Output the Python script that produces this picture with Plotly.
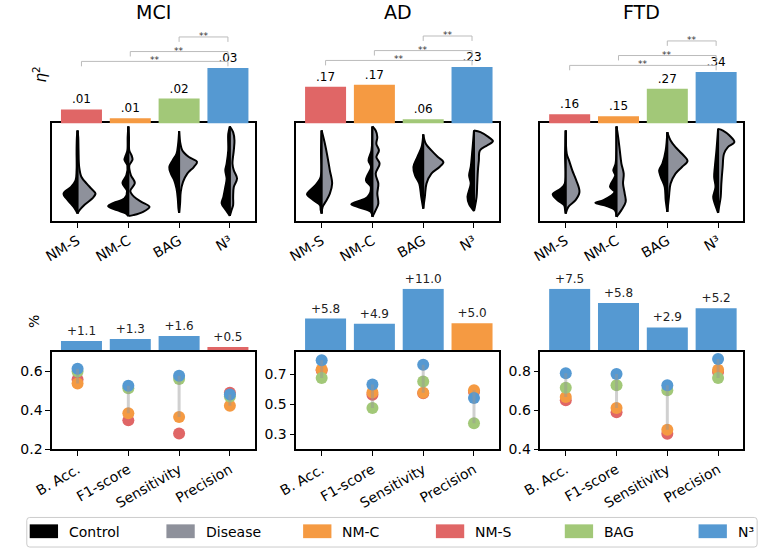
import plotly.graph_objects as go

W, H = 763, 557

panels = ["MCI", "AD", "FTD"]
methods = ["NM-S", "NM-C", "BAG", "N³"]
metrics = ["B. Acc.", "F1-score", "Sensitivity", "Precision"]

# ---- effect sizes (eta^2) per method ----
eta_mci = [0.0125, 0.008, 0.018, 0.0335]
eta_ad = [0.168, 0.1744, 0.0622, 0.232]
eta_ftd = [0.160, 0.1517, 0.2683, 0.339]

# significance brackets (method vs N³)
sig_pairs = [("BAG", "N³", "**"), ("NM-C", "N³", "**"), ("NM-S", "N³", "**")]

# ---- split-violin density profiles: (score %, half-width x100) ----
mci_nms_ctrl = [(92.5, 0), (85.7, 1.3), (72.1, 1.9), (51.7, 1.9), (41.5, 3.9), (34.7, 12.8), (27.9, 27.6), (21.1, 19.3), (14.3, 7.7), (9.2, 1.9), (7.5, 0)]
mci_nms_dis = [(92.5, 0), (85.7, 1.3), (72.1, 1.9), (55.1, 3.2), (44.9, 7.7), (38.1, 18.0), (33.0, 27.0), (27.9, 35.3), (22.8, 28.9), (16.0, 12.8), (10.9, 3.9), (7.5, 0)]
mci_nmc_ctrl = [(96.6, 0), (85.7, 1.3), (72.1, 1.9), (67.0, 5.1), (62.6, 7.7), (56.8, 1.9), (46.6, 3.9), (38.8, 11.6), (30.6, 2.6), (22.8, 7.7), (18.4, 28.9), (15.0, 39.8), (10.9, 22.5), (7.5, 5.1), (4.8, 0)]
mci_nmc_dis = [(96.6, 0), (85.7, 1.3), (72.1, 1.9), (67.0, 6.4), (62.6, 8.3), (56.8, 1.9), (46.6, 5.1), (38.8, 12.8), (30.6, 3.9), (24.5, 11.6), (19.4, 25.7), (14.3, 41.7), (9.2, 28.9), (5.8, 9.6), (4.8, 0)]
mci_bag_ctrl = [(91.8, 0), (78.9, 1.9), (68.7, 5.1), (61.9, 12.8), (55.1, 19.3), (48.3, 16.1), (41.5, 9.6), (33.0, 5.1), (22.8, 2.6), (12.6, 1.3), (8.2, 0)]
mci_bag_dis = [(91.8, 0), (78.9, 2.6), (72.1, 6.4), (65.3, 19.3), (60.2, 35.3), (55.1, 28.9), (48.3, 16.1), (39.8, 7.7), (29.6, 3.2), (17.7, 1.9), (8.2, 0)]
mci_n3_ctrl = [(96.6, 0), (89.1, 3.2), (72.1, 3.2), (58.5, 6.4), (51.7, 9.0), (43.2, 6.4), (34.7, 9.0), (24.5, 12.8), (17.7, 16.1), (10.9, 7.7), (5.1, 0)]
mci_n3_dis = [(96.6, 0), (90.8, 6.4), (82.3, 9.0), (72.1, 7.7), (58.5, 5.1), (51.7, 7.7), (43.2, 14.1), (34.7, 7.7), (24.5, 6.4), (16.0, 6.4), (10.9, 3.2), (5.1, 0)]

ad_nms_ctrl = [(92.5, 0), (72.1, 1.3), (44.9, 1.9), (38.1, 9.6), (31.3, 22.5), (27.2, 28.9), (21.1, 16.1), (16.0, 3.2), (10.9, 1.9), (7.5, 0)]
ad_nms_dis = [(92.5, 0), (78.9, 6.4), (65.3, 11.6), (51.7, 16.1), (38.1, 20.6), (27.9, 16.1), (19.4, 7.7), (14.3, 1.9), (7.5, 0)]
ad_nmc_ctrl = [(96.6, 0), (72.1, 1.9), (61.9, 7.7), (55.1, 2.6), (41.5, 12.8), (34.7, 3.2), (24.5, 9.6), (19.4, 32.1), (17.0, 41.7), (13.6, 25.7), (9.2, 3.2), (4.1, 0)]
ad_nmc_dis = [(96.6, 0), (92.5, 6.4), (85.7, 9.6), (78.9, 7.7), (72.1, 12.8), (65.3, 7.7), (58.5, 14.1), (48.3, 6.4), (38.1, 11.6), (27.9, 9.6), (17.7, 11.6), (10.9, 6.4), (4.1, 0)]
ad_bag_ctrl = [(88.4, 0), (75.5, 3.2), (65.3, 11.6), (55.1, 19.3), (46.6, 16.1), (38.1, 7.7), (24.5, 3.9), (12.6, 0)]
ad_bag_dis = [(88.4, 0), (78.9, 5.1), (72.1, 16.1), (65.3, 28.9), (60.2, 39.8), (55.1, 32.1), (48.3, 16.1), (38.1, 6.4), (24.5, 3.2), (12.6, 0)]
ad_n3_ctrl = [(92.5, 0), (72.1, 3.2), (55.1, 6.4), (46.6, 9.6), (38.1, 6.4), (24.5, 12.8), (17.0, 9.6), (9.9, 0)]
ad_n3_dis = [(92.5, 0), (90.8, 12.8), (85.7, 28.9), (81.6, 37.3), (77.2, 25.7), (72.1, 11.6), (61.9, 9.6), (51.7, 7.7), (38.1, 6.4), (24.5, 5.1), (14.3, 1.9), (9.9, 0)]

ftd_nms_ctrl = [(92.5, 0), (68.7, 1.3), (38.1, 1.9), (33.0, 9.6), (27.2, 25.7), (21.1, 16.1), (16.0, 3.2), (10.9, 1.3), (7.5, 0)]
ftd_nms_dis = [(92.5, 0), (68.7, 1.9), (61.9, 6.4), (51.7, 12.8), (41.5, 20.6), (29.6, 27.0), (21.1, 19.3), (14.3, 5.1), (7.5, 0)]
ftd_nmc_ctrl = [(96.6, 0), (58.5, 1.9), (51.7, 6.4), (46.6, 2.6), (34.7, 12.8), (29.6, 3.9), (21.1, 25.7), (18.4, 41.7), (15.0, 19.3), (10.9, 3.2), (4.1, 0)]
ftd_nmc_dis = [(96.6, 0), (85.7, 3.2), (72.1, 6.4), (58.5, 9.6), (48.3, 14.1), (38.1, 12.8), (27.9, 16.1), (19.4, 18.0), (10.9, 9.6), (4.1, 0)]
ftd_bag_ctrl = [(90.8, 0), (72.1, 3.2), (58.5, 9.6), (51.7, 16.1), (44.9, 12.8), (34.7, 5.1), (21.1, 3.2), (9.2, 0)]
ftd_bag_dis = [(90.8, 0), (82.3, 6.4), (75.5, 16.1), (68.7, 28.9), (61.2, 39.8), (55.1, 28.9), (48.3, 16.1), (38.1, 6.4), (24.5, 3.2), (9.2, 0)]
ftd_n3_ctrl = [(94.2, 0), (72.1, 3.2), (55.1, 6.4), (44.9, 7.7), (34.7, 5.1), (24.5, 9.6), (19.4, 7.7), (8.2, 0)]
ftd_n3_dis = [(94.2, 0), (92.5, 9.6), (87.4, 22.5), (80.6, 32.1), (75.5, 19.3), (68.7, 11.6), (55.1, 9.0), (38.1, 6.4), (24.5, 5.1), (14.3, 1.9), (8.2, 0)]

# ---- classification scores per metric ----
mci_nms = [0.558, 0.349, 0.282, 0.491]
mci_nmc = [0.538, 0.385, 0.366, 0.424]
mci_bag = [0.600, 0.513, 0.561, 0.471]
mci_n3 = [0.613, 0.526, 0.578, 0.482]
ad_nms = [0.728, 0.564, 0.575, 0.582]
ad_nmc = [0.733, 0.579, 0.577, 0.595]
ad_bag = [0.676, 0.476, 0.652, 0.375]
ad_n3 = [0.795, 0.632, 0.764, 0.542]
ftd_nms = [0.652, 0.590, 0.481, 0.797]
ftd_nmc = [0.669, 0.612, 0.501, 0.808]
ftd_bag = [0.716, 0.729, 0.703, 0.766]
ftd_n3 = [0.790, 0.787, 0.729, 0.864]

# ---- improvement of best method (%) ----
gain_mci = [1.1, 1.3, 1.6, 0.5]
best_mci = ["N³", "N³", "N³", "NM-S"]
gain_ad = [5.8, 4.9, 11.0, 5.0]
best_ad = ["N³", "N³", "N³", "NM-C"]
gain_ftd = [7.5, 5.8, 2.9, 5.2]
best_ftd = ["N³", "N³", "N³", "N³"]

# ---------------- styles ----------------
FONT = "DejaVu Sans"
COL = {"NM-S": "#e06666", "NM-C": "#f59a42", "BAG": "#a2c878", "N³": "#5599d2"}
CTRL_COL, DIS_COL = "#000000", "#8e919b"
offsets = [0, 250, 500]
eta_axis = [(0.0055, 2000.0), (0.0494, 312.0), (0.1225, 240.0)]  # (lower bound, px per unit)
gain_top = [6.4, 11.0, 7.5]
score_range = [(0.2, 0.7, 0.2), (0.2, 0.85, 0.3), (0.4, 0.9, 0.4)]

eta_all = [eta_mci, eta_ad, eta_ftd]
viol_all = [
    [(mci_nms_ctrl, mci_nms_dis), (mci_nmc_ctrl, mci_nmc_dis), (mci_bag_ctrl, mci_bag_dis), (mci_n3_ctrl, mci_n3_dis)],
    [(ad_nms_ctrl, ad_nms_dis), (ad_nmc_ctrl, ad_nmc_dis), (ad_bag_ctrl, ad_bag_dis), (ad_n3_ctrl, ad_n3_dis)],
    [(ftd_nms_ctrl, ftd_nms_dis), (ftd_nmc_ctrl, ftd_nmc_dis), (ftd_bag_ctrl, ftd_bag_dis), (ftd_n3_ctrl, ftd_n3_dis)],
]
scores_all = [
    {"NM-S": mci_nms, "NM-C": mci_nmc, "BAG": mci_bag, "N³": mci_n3},
    {"NM-S": ad_nms, "NM-C": ad_nmc, "BAG": ad_bag, "N³": ad_n3},
    {"NM-S": ftd_nms, "NM-C": ftd_nmc, "BAG": ftd_bag, "N³": ftd_n3},
]
gain_all = [(gain_mci, best_mci), (gain_ad, best_ad), (gain_ftd, best_ftd)]


def fx(p):
    return p / W


def fy(p):
    return 1 - p / H


def xa(i):
    return "x" if i == 1 else f"x{i}"


def ya(i):
    return "y" if i == 1 else f"y{i}"


fig = go.Figure()
layout = dict(
    width=W, height=H, margin=dict(l=0, r=0, t=0, b=0),
    paper_bgcolor="white", plot_bgcolor="white", showlegend=False, hovermode=False,
    font=dict(family=FONT, color="black", size=13),
)
shapes, annots = [], []
TICKFONT = dict(size=14, family=FONT, color="black")

for p, ox in enumerate(offsets):
    n = 4 * p
    ax_v, ax_b, ax_g, ax_s = n + 1, n + 2, n + 3, n + 4
    hidden = dict(visible=False, showgrid=False, zeroline=False, fixedrange=True)
    frame = dict(showline=True, mirror=True, linecolor="black", linewidth=1.5, showgrid=False, zeroline=False)

    layout[f"xaxis{ax_v}"] = dict(domain=[fx(35 + ox), fx(243 + ox)], anchor=ya(ax_v), range=[-0.5, 3.5],
                                  tickmode="array", tickvals=[0, 1, 2, 3], ticktext=methods, tickangle=-30,
                                  ticks="outside", ticklen=5, tickcolor="black", tickfont=TICKFONT, **frame)
    layout[f"yaxis{ax_v}"] = dict(domain=[fy(224), fy(125)], anchor=xa(ax_v), range=[0, 100],
                                  showticklabels=False, ticks="", **frame)
    lo, k = eta_axis[p]
    layout[f"xaxis{ax_b}"] = dict(domain=[fx(40 + ox), fx(240 + ox)], anchor=ya(ax_b), range=[-0.5, 3.5], **hidden)
    layout[f"yaxis{ax_b}"] = dict(domain=[fy(125), fy(25)], anchor=xa(ax_b), range=[lo, lo + 100 / k], **hidden)
    layout[f"xaxis{ax_g}"] = dict(domain=[fx(40 + ox), fx(240 + ox)], anchor=ya(ax_g), range=[-0.5, 3.5], **hidden)
    layout[f"yaxis{ax_g}"] = dict(domain=[fy(357), fy(293)], anchor=xa(ax_g), range=[0, gain_top[p]], **hidden)
    s0, s1, t0 = score_range[p]
    layout[f"xaxis{ax_s}"] = dict(domain=[fx(35 + ox), fx(243 + ox)], anchor=ya(ax_s), range=[-0.5, 3.5],
                                  tickmode="array", tickvals=[0, 1, 2, 3], ticktext=metrics, tickangle=-30,
                                  ticks="outside", ticklen=5, tickcolor="black", tickfont=TICKFONT, **frame)
    layout[f"yaxis{ax_s}"] = dict(domain=[fy(456), fy(357)], anchor=xa(ax_s), range=[s0, s1],
                                  tick0=t0, dtick=0.2, tickformat=".1f", ticks="outside", ticklen=5,
                                  tickcolor="black", tickfont=TICKFONT, **frame)

    # ---- violins ----
    for i, (ctrl, dis) in enumerate(viol_all[p]):
        for side, prof, col in [(-1, ctrl, CTRL_COL), (1, dis, DIS_COL)]:
            ys = [q[0] for q in prof]
            ws = [q[1] / 100 for q in prof]
            fig.add_trace(go.Scatter(x=[i, i], y=[ys[0], ys[-1]], mode="lines",
                                     line=dict(color="black", width=2), hoverinfo="skip",
                                     xaxis=xa(ax_v), yaxis=ya(ax_v)))
            fig.add_trace(go.Scatter(x=[i + side * w for w in ws], y=ys, mode="lines",
                                     line=dict(color="black", width=2, shape="spline", smoothing=1.0),
                                     fill="tonextx", fillcolor=col, hoverinfo="skip",
                                     xaxis=xa(ax_v), yaxis=ya(ax_v)))

    # ---- eta bars ----
    eta = eta_all[p]
    labels = [f"{v:.2f}".lstrip("0") for v in eta]
    fig.add_trace(go.Bar(x=[0, 1, 2, 3], y=eta, width=0.84,
                         marker=dict(color=[COL[m] for m in methods], line=dict(width=0)),
                         text=labels, textposition="outside", cliponaxis=False, constraintext="none",
                         textfont=dict(size=12, family=FONT, color="black"),
                         xaxis=xa(ax_b), yaxis=ya(ax_b)))
    top = max(eta)
    for j, (m1, m2, star) in enumerate(sig_pairs):
        off = [31.5, 16.7, 6.7][j]
        yl = top + off / k
        yd = yl - 5 / k
        x1, x2 = methods.index(m1), methods.index(m2)
        shapes.append(dict(type="path", xref=xa(ax_b), yref=ya(ax_b),
                           path=f"M {x1},{yd} L {x1},{yl} L {x2},{yl} L {x2},{yd}",
                           line=dict(color="#bbbbbb", width=1)))
        annots.append(dict(x=(x1 + x2) / 2, y=yl, xref=xa(ax_b), yref=ya(ax_b), text=star,
                           showarrow=False, yanchor="middle", yshift=1,
                           font=dict(size=9, family=FONT, color="#333333")))

    # ---- gain bars ----
    gains, best = gain_all[p]
    fig.add_trace(go.Bar(x=[0, 1, 2, 3], y=gains, width=0.84,
                         marker=dict(color=[COL[m] for m in best], line=dict(width=0)),
                         text=[f"+{v:.1f}" for v in gains], textposition="outside", cliponaxis=False,
                         constraintext="none", textfont=dict(size=12, family=FONT, color="#222222"),
                         xaxis=xa(ax_g), yaxis=ya(ax_g)))

    # ---- score dots ----
    sc = scores_all[p]
    for m in methods:
        fig.add_trace(go.Scatter(x=[0, 1, 2, 3], y=sc[m], mode="markers",
                                 marker=dict(color=COL[m], size=12, line=dict(width=0)),
                                 xaxis=xa(ax_s), yaxis=ya(ax_s)))
    for j in range(4):
        vals = [sc[m][j] for m in ["NM-C", "BAG", "N³"]]
        fig.add_trace(go.Scatter(x=[j, j], y=[min(vals), max(vals)], mode="lines",
                                 line=dict(color="rgba(150,150,150,0.45)", width=3),
                                 xaxis=xa(ax_s), yaxis=ya(ax_s)))

    annots.append(dict(x=fx(139 + ox), y=fy(12), xref="paper", yref="paper", text=panels[p],
                       showarrow=False, font=dict(size=19, family=FONT), xanchor="center", yanchor="middle"))

annots.append(dict(x=fx(22), y=fy(75), xref="paper", yref="paper", text="<i>η</i><sup>2</sup>",
                   showarrow=False, textangle=-90, font=dict(size=15, family=FONT), xanchor="center", yanchor="middle"))
annots.append(dict(x=fx(17), y=fy(326), xref="paper", yref="paper", text="%",
                   showarrow=False, textangle=-90, font=dict(size=14, family=FONT), xanchor="center", yanchor="middle"))

# legend (custom)
leg_items = [("Control", CTRL_COL), ("Disease", DIS_COL), ("NM-C", COL["NM-C"]),
             ("NM-S", COL["NM-S"]), ("BAG", COL["BAG"]), ("N³", COL["N³"])]
leg_x = [12, 152, 292, 428, 560, 697]
x0, x1, y0, y1, r = 9, 757, 525, 555, 3
shapes.append(dict(type="path", xref="paper", yref="paper",
                   path=(f"M {fx(x0 + r)},{fy(y0)} L {fx(x1 - r)},{fy(y0)} Q {fx(x1)},{fy(y0)} {fx(x1)},{fy(y0 + r)} "
                         f"L {fx(x1)},{fy(y1 - r)} Q {fx(x1)},{fy(y1)} {fx(x1 - r)},{fy(y1)} "
                         f"L {fx(x0 + r)},{fy(y1)} Q {fx(x0)},{fy(y1)} {fx(x0)},{fy(y1 - r)} "
                         f"L {fx(x0)},{fy(y0 + r)} Q {fx(x0)},{fy(y0)} {fx(x0 + r)},{fy(y0)} Z"),
                   line=dict(color="#cccccc", width=1), fillcolor="white", layer="below"))
for (name, col), lx in zip(leg_items, leg_x):
    shapes.append(dict(type="rect", xref="paper", yref="paper", x0=fx(lx), x1=fx(lx + 29),
                       y0=fy(546), y1=fy(532), fillcolor=col, line=dict(width=0)))
    annots.append(dict(x=fx(lx + 38), y=fy(539.5), xref="paper", yref="paper", text=name, showarrow=False,
                       xanchor="left", yanchor="middle", font=dict(size=14, family=FONT)))

layout["shapes"] = shapes
layout["annotations"] = annots
fig.update_layout(**layout)
fig.write_html("out.html", config={"displayModeBar": False},
               post_script="document.body.style.margin='0px';")
